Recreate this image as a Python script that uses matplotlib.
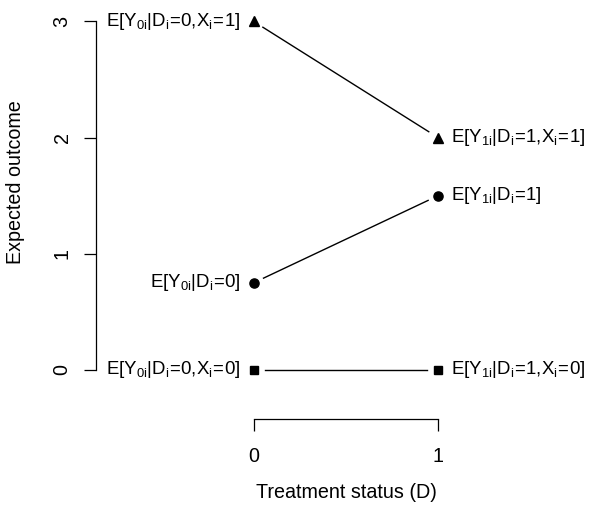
import numpy as np
import matplotlib
matplotlib.use('Agg')
import matplotlib.pyplot as plt

plt.rcParams['font.family'] = ['Liberation Sans', 'DejaVu Sans']
plt.rcParams['mathtext.fontset'] = 'custom'
plt.rcParams['mathtext.rm'] = 'Liberation Sans'
plt.rcParams['mathtext.it'] = 'Liberation Sans'
plt.rcParams['mathtext.bf'] = 'Liberation Sans:bold'

# data
treatment = [0, 1]
y_x1 = [3, 2]        # X=1 group (triangles)
y_all = [0.75, 1.5]  # overall (circles)
y_x0 = [0, 0]        # X=0 group (squares)

labels_x1 = [r'$\mathrm{E[Y_{0i}|D_i\!=\!0{,}X_i\!=\!1]}$',
             r'$\mathrm{E[Y_{1i}|D_i\!=\!1{,}X_i\!=\!1]}$']
labels_all = [r'$\mathrm{E[Y_{0i}|D_i\!=\!0]}$',
              r'$\mathrm{E[Y_{1i}|D_i\!=\!1]}$']
labels_x0 = [r'$\mathrm{E[Y_{0i}|D_i\!=\!0{,}X_i\!=\!0]}$',
             r'$\mathrm{E[Y_{1i}|D_i\!=\!1{,}X_i\!=\!0]}$']

FS = 14.2
LFS = 13.4

fig = plt.figure(figsize=(5.89, 5.12), dpi=100)
ax = fig.add_axes([96/589, (512-419)/512, (589-96)/589, 419/512])
ax.set_xlim(-0.854, 1.818)
ax.set_ylim(-0.4217, 3.184)
ax.patch.set_alpha(0)

fig.canvas.draw()


def gap_line(xs, ys, gap_px=11):
    # line between two points with a gap around each point (R type="b")
    p0 = ax.transData.transform((xs[0], ys[0]))
    p1 = ax.transData.transform((xs[1], ys[1]))
    d = p1 - p0
    u = d / np.hypot(*d)
    a = ax.transData.inverted().transform(p0 + u * gap_px)
    b = ax.transData.inverted().transform(p1 - u * gap_px)
    ax.plot([a[0], b[0]], [a[1], b[1]], color='black', lw=1.0)


for ys, mk, ms, labs in [(y_x1, '^', 6.5, labels_x1),
                         (y_all, 'o', 6.6, labels_all),
                         (y_x0, 's', 5.8, labels_x0)]:
    ax.plot(treatment, ys, linestyle='none', marker=mk, ms=ms, color='black')
    gap_line(treatment, ys)
    ax.annotate(labs[0], (treatment[0], ys[0]), xytext=(-13, 0),
                textcoords='offset pixels', ha='right', va='center',
                fontsize=LFS)
    ax.annotate(labs[1], (treatment[1], ys[1]), xytext=(13, 0),
                textcoords='offset pixels', ha='left', va='center',
                fontsize=LFS)

for s in ['top', 'right']:
    ax.spines[s].set_visible(False)
ax.spines['left'].set_bounds(0, 3)
ax.spines['bottom'].set_bounds(0, 1)
ax.spines['left'].set_linewidth(0.9)
ax.spines['bottom'].set_linewidth(0.9)

ax.set_xticks([0, 1])
ax.set_yticks([0, 1, 2, 3])
ax.tick_params(direction='out', length=8.5, width=0.9, labelsize=FS)
ax.tick_params(axis='x', pad=12)
ax.tick_params(axis='y', pad=9)
for t in ax.get_yticklabels():
    t.set_rotation(90)
    t.set_va('center')

fig.text(346/589, 1 - 492/512, 'Treatment status (D)', ha='center',
         va='center', fontsize=FS)
fig.text(16/589, 1 - 182/512, 'Expected outcome', ha='center', va='center',
         rotation=90, fontsize=FS)

fig.savefig('out.png', dpi=100)
